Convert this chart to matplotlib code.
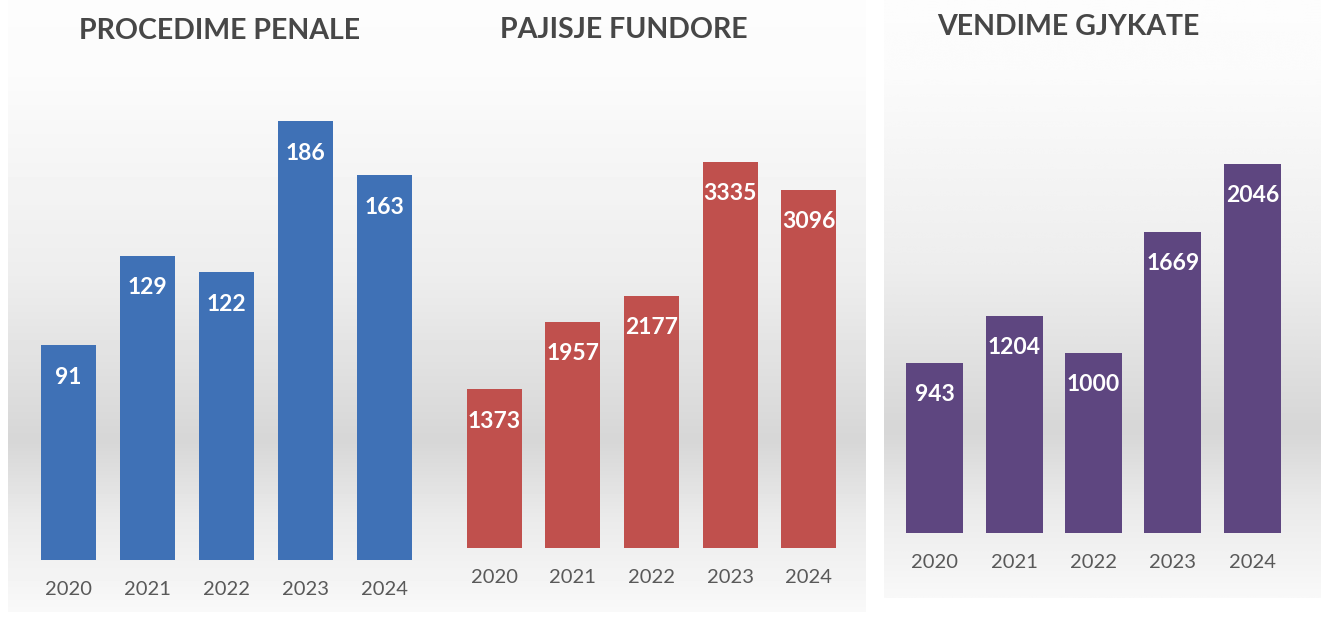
import matplotlib.pyplot as plt
import numpy as np

years = ['2020', '2021', '2022', '2023', '2024']

# vlerat per secilin panel
procedime = [91, 129, 122, 186, 163]
pajisje = [1373, 1957, 2177, 3335, 3096]
vendime = [943, 1204, 1000, 1669, 2046]

titles = ['PROCEDIME PENALE', 'PAJISJE FUNDORE', 'VENDIME GJYKATE']
colors = ['#3f71b6', '#c0504d', '#5e4680']

W, H = 1321, 619
plt.rcParams['font.family'] = ['Lato', 'DejaVu Sans']
fig = plt.figure(figsize=(W / 100, H / 100), dpi=100)
fig.patch.set_facecolor('white')

# sfondi me gradient (ne piksel)
bg = fig.add_axes([0, 0, 1, 1])
bg.set_xlim(0, W)
bg.set_ylim(H, 0)
bg.axis('off')

def gradient(x0, x1, y0, y1):
    t = np.linspace(0, 1, 200)
    v = np.interp(t, [0, 0.12, 0.45, 0.72, 0.85, 1.0], [0.99, 0.985, 0.93, 0.84, 0.92, 0.975])
    img = np.repeat(v[:, None], 2, axis=1)
    bg.imshow(img, cmap='gray', vmin=0, vmax=1, extent=(x0, x1, y1, y0),
              aspect='auto', interpolation='bicubic', zorder=0)

gradient(8, 430, 0, 612)
gradient(430, 866, 0, 612)
gradient(884, 1321, 0, 598)
bg.set_xlim(0, W)
bg.set_ylim(H, 0)

def px_axes(left, top, right, bottom):
    return fig.add_axes([left / W, 1 - bottom / H, (right - left) / W, (bottom - top) / H])

# (left, top, right, bottom, ymax, bar width, title x, title y)
layout = [
    (29, 100, 424, 560, 195, 0.70, 220, 31),
    (455, 100, 848, 548, 3871, 0.70, 624, 30),
    (895, 100, 1292, 533, 2401, 0.72, 1068, 27),
]
series = [procedime, pajisje, vendime]

for vals, col, title, (l, t, r, b, ymax, bw, tx, ty) in zip(series, colors, titles, layout):
    ax = px_axes(l, t, r, b)
    ax.patch.set_alpha(0)
    x = np.arange(len(years))
    bars = ax.bar(x, vals, width=bw, color=col, zorder=2)
    ax.set_xlim(-0.5, len(years) - 0.5)
    ax.set_ylim(0, ymax)
    ax.set_yticks([])
    ax.set_xticks(x)
    ax.set_xticklabels(years, fontsize=14.5, color='#595959')
    ax.tick_params(axis='x', length=0, pad=15)
    for s in ax.spines.values():
        s.set_visible(False)
    for rect, v in zip(bars, vals):
        ax.annotate(str(v), (rect.get_x() + rect.get_width() / 2, v),
                    xytext=(0, -23), textcoords='offset points',
                    ha='center', va='center', fontsize=16.5, fontweight='bold',
                    color='white', zorder=3)
    bg.text(tx, ty, title, ha='center', va='center', fontsize=20.5,
            fontweight='bold', color='#474747')

fig.savefig('out.png', dpi=100)
